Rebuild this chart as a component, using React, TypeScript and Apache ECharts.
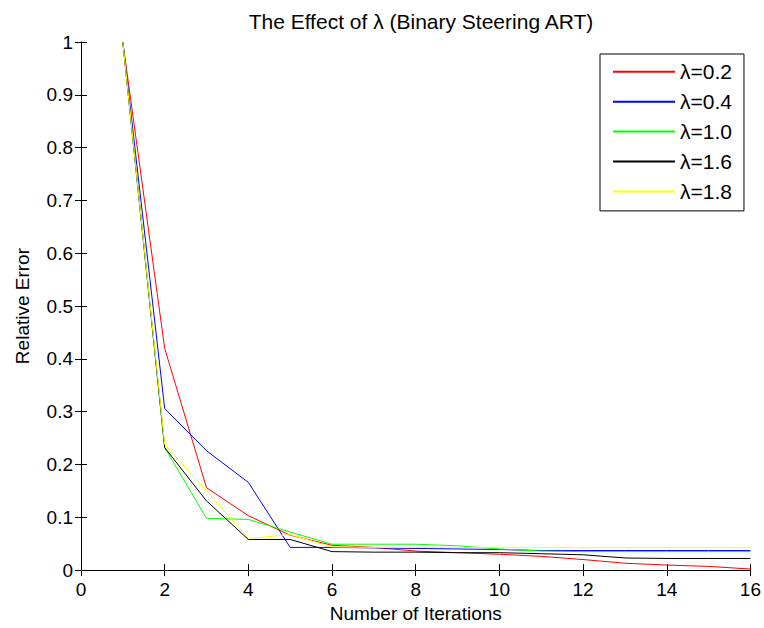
import React, { useEffect, useRef } from "react";
import * as echarts from "echarts";

const iterations = [1, 2, 3, 4, 5, 6, 7, 8, 9, 10, 11, 12, 13, 14, 15, 16];
const seriesNames = ["λ=0.2", "λ=0.4", "λ=1.0", "λ=1.6", "λ=1.8"];
const lambda02 = [1, 0.42, 0.156, 0.103, 0.066, 0.047, 0.043, 0.036, 0.033, 0.03, 0.026, 0.02, 0.013, 0.0095, 0.007, 0.002];
const lambda04 = [1, 0.306, 0.226, 0.166, 0.043, 0.043, 0.042, 0.041, 0.04, 0.039, 0.037, 0.037, 0.037, 0.037, 0.037, 0.037];
const lambda10 = [1, 0.232, 0.098, 0.096, 0.072, 0.049, 0.049, 0.049, 0.046, 0.04, 0.036, 0.035, 0.035, 0.035, 0.035, 0.035];
const lambda16 = [1, 0.232, 0.131, 0.058, 0.058, 0.035, 0.034, 0.034, 0.033, 0.033, 0.031, 0.029, 0.023, 0.022, 0.022, 0.022];
const lambda18 = [1, 0.238, 0.15, 0.06, 0.067, 0.044, 0.043, 0.043, 0.043, 0.043, 0.043, 0.043, 0.043, 0.043, 0.043, 0.043];
const seriesValues = [lambda02, lambda04, lambda10, lambda16, lambda18];
const seriesColors = ["#ff0000", "#0000ff", "#00ff00", "#000000", "#ffff00"];

const FONT = '"Liberation Sans", Arial, Helvetica, sans-serif';

export default function App() {
  const ref = useRef<HTMLDivElement>(null);
  useEffect(() => {
    if (!ref.current) return;
    const chart = echarts.init(ref.current, null, { renderer: "svg" });
    const tickStyle = { inside: true, length: 6, lineStyle: { color: "#000", width: 1 } };
    const lineStyle = { show: true, lineStyle: { color: "#000", width: 1 } };
    const labelStyle = { color: "#000", fontSize: 19, fontFamily: FONT };
    chart.setOption({
      animation: false,
      backgroundColor: "#fff",
      textStyle: { fontFamily: FONT },
      title: {
        text: "The Effect of λ (Binary Steering ART)",
        left: 416,
        top: 6,
        textAlign: "center",
        textStyle: { fontSize: 21, fontWeight: "normal", color: "#000", fontFamily: FONT },
      },
      grid: { left: 81, right: 13, top: 42, bottom: 57, containLabel: false },
      legend: {
        orient: "vertical",
        left: 600,
        top: 54,
        data: seriesNames,
        itemWidth: 62,
        itemHeight: 21,
        itemGap: 8.9,
        padding: [7.3, 12, 9, 12],
        borderColor: "#000",
        borderWidth: 1,
        backgroundColor: "#fff",
        itemStyle: { opacity: 0 },
        textStyle: { fontSize: 21, color: "#000", fontFamily: FONT },
      },
      xAxis: [
        {
          type: "value",
          min: 0,
          max: 16,
          interval: 2,
          position: "bottom",
          name: "Number of Iterations",
          nameLocation: "middle",
          nameGap: 31,
          nameTextStyle: labelStyle,
          axisLine: lineStyle,
          axisTick: tickStyle,
          axisLabel: { ...labelStyle, margin: 10 },
          splitLine: { show: false },
        },
        {
          type: "value",
          min: 0,
          max: 16,
          interval: 2,
          position: "top",
          axisLine: lineStyle,
          axisTick: tickStyle,
          axisLabel: { show: false },
          splitLine: { show: false },
        },
      ],
      yAxis: [
        {
          type: "value",
          min: 0,
          max: 1,
          interval: 0.1,
          position: "left",
          name: "Relative Error",
          nameLocation: "middle",
          nameGap: 49,
          nameTextStyle: labelStyle,
          axisLine: lineStyle,
          axisTick: tickStyle,
          axisLabel: { ...labelStyle, margin: 8 },
          splitLine: { show: false },
        },
        {
          type: "value",
          min: 0,
          max: 1,
          interval: 0.1,
          position: "right",
          axisLine: lineStyle,
          axisTick: tickStyle,
          axisLabel: { show: false },
          splitLine: { show: false },
        },
      ],
      series: seriesNames.map((name, i) => ({
        name,
        type: "line",
        xAxisIndex: 0,
        yAxisIndex: 0,
        symbol: "none",
        color: seriesColors[i],
        lineStyle: { color: seriesColors[i], width: 1 },
        data: iterations.map((x, j) => [x, seriesValues[i][j]]),
      })),
    });
    return () => chart.dispose();
  }, []);
  return (
    <div
      ref={ref}
      style={{ position: "fixed", left: 0, top: 0, width: 764, height: 628, background: "#fff" }}
    />
  );
}
